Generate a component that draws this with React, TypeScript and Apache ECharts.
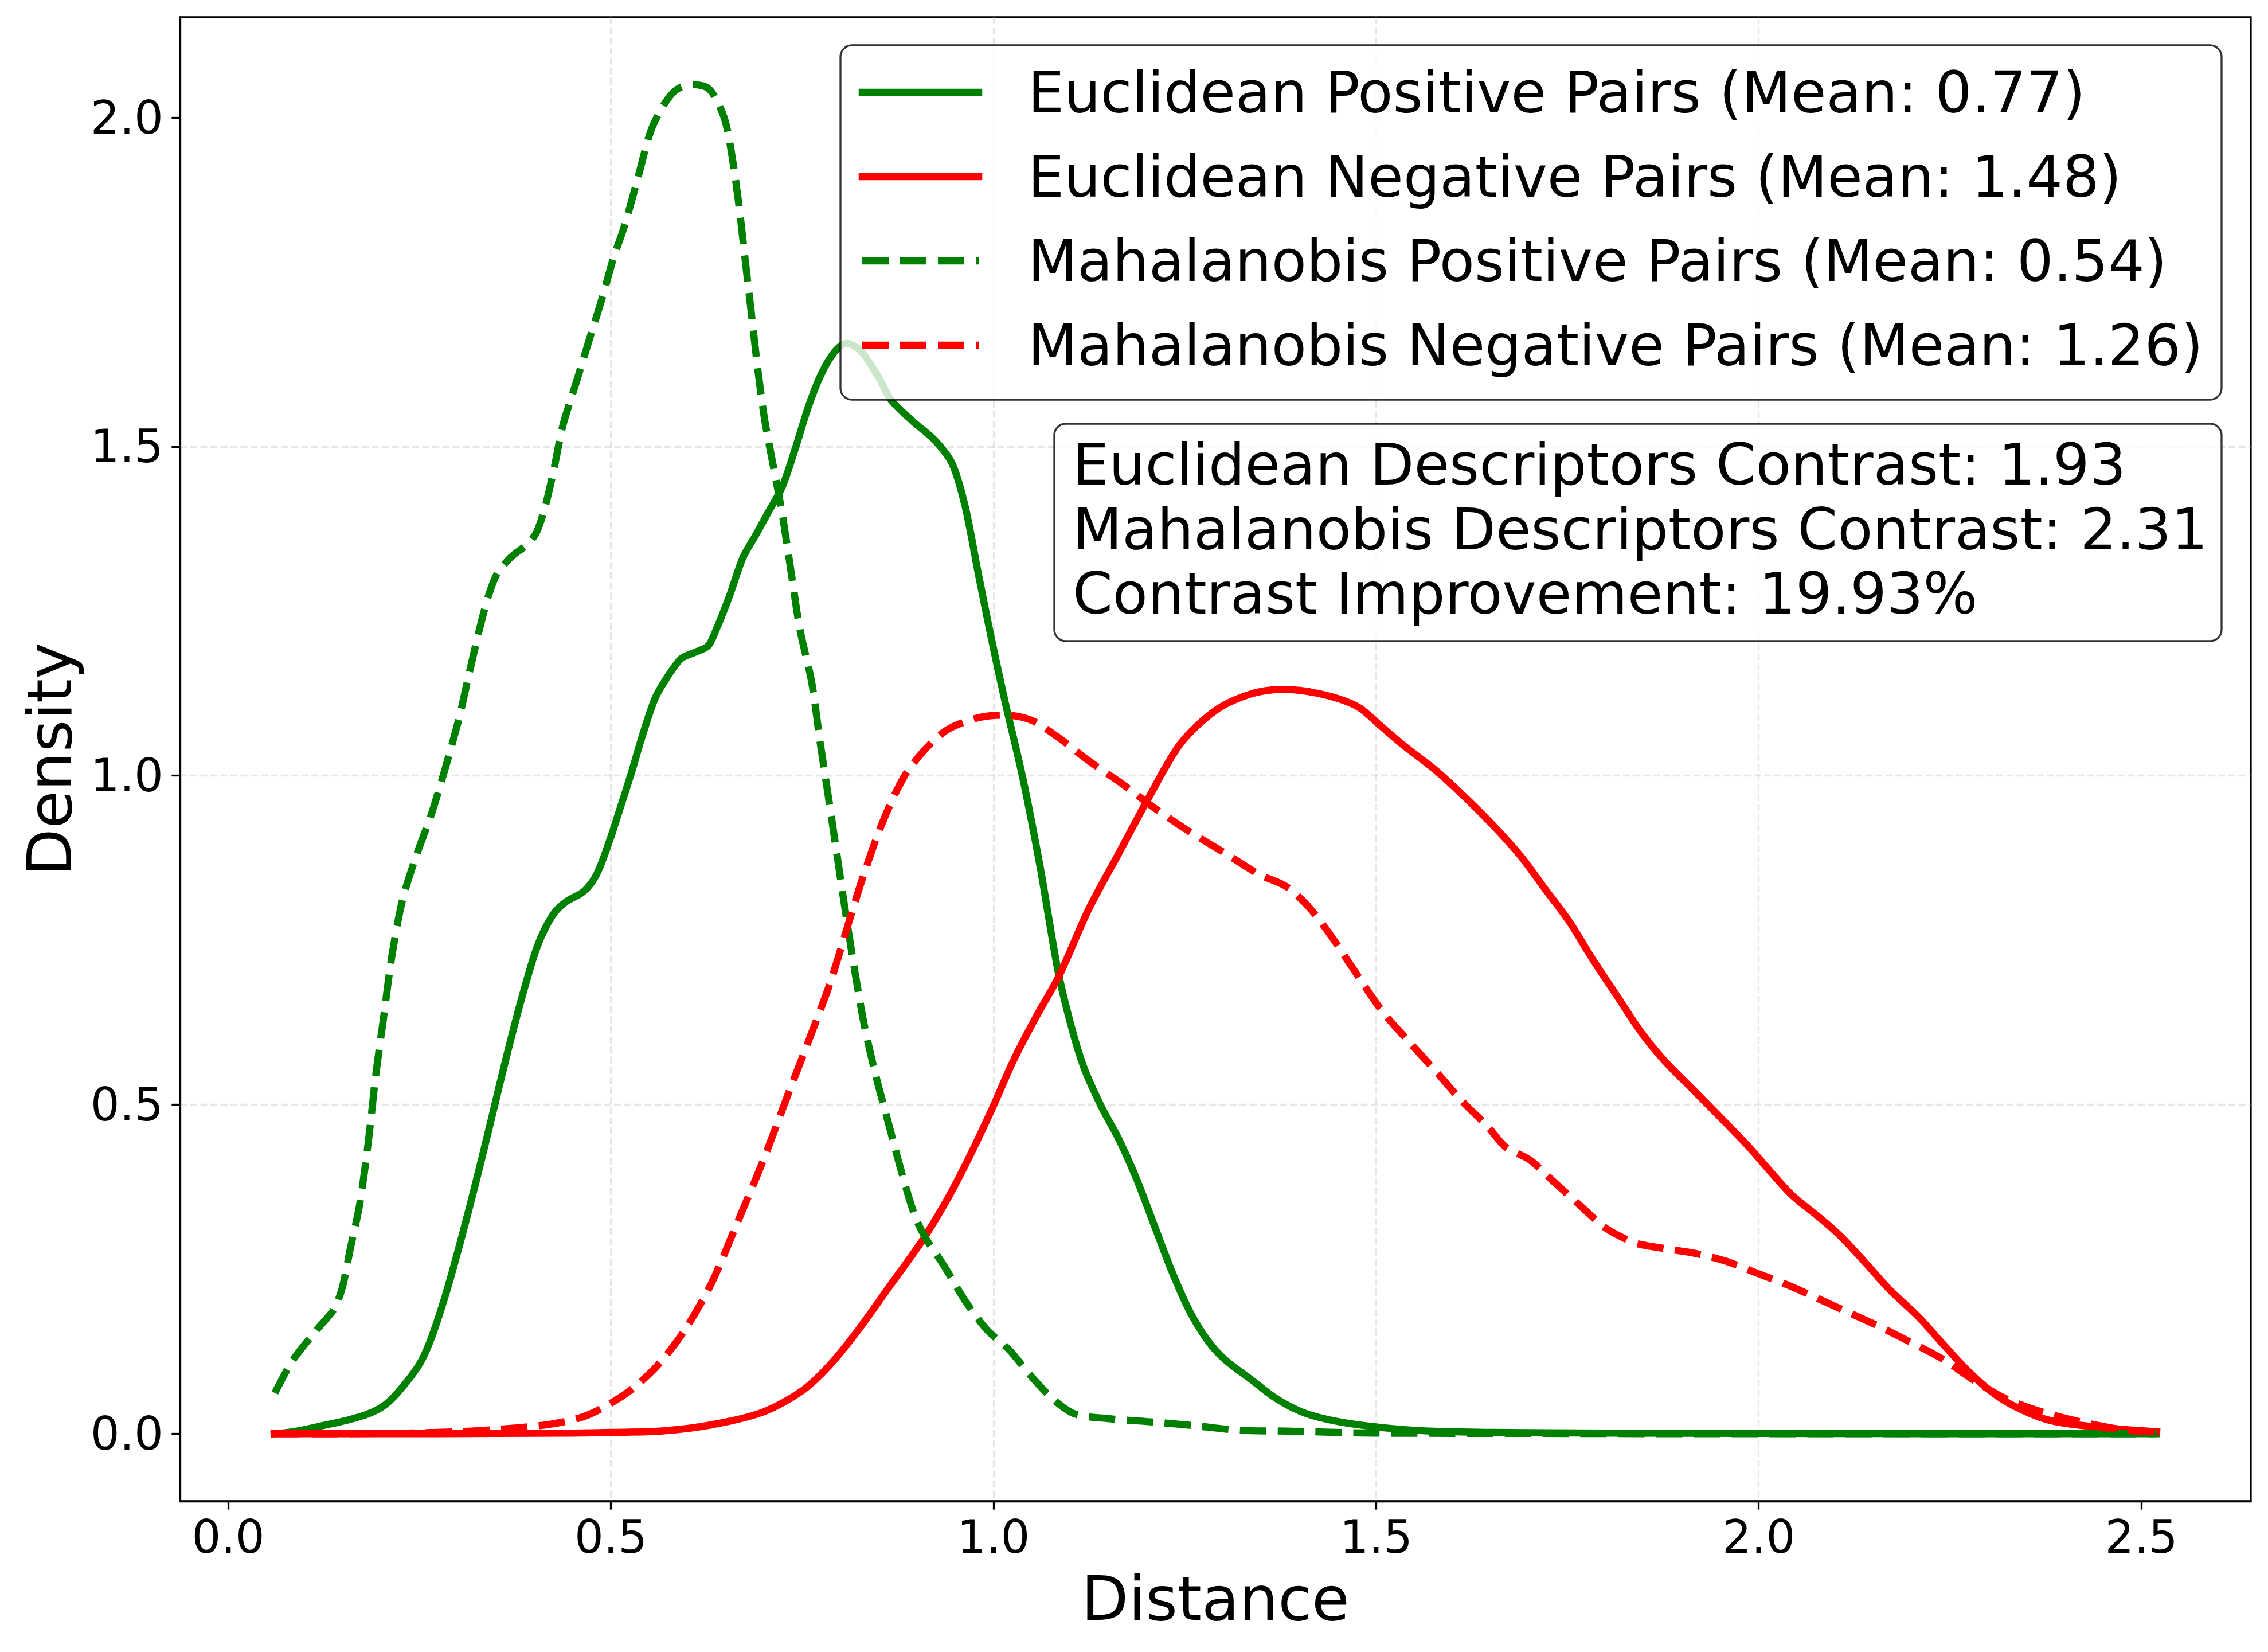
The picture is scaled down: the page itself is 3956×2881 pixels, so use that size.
import React, { useEffect, useRef } from 'react';
import * as echarts from 'echarts';

const W = 3956;
const H = 2881;
const FONT = 'DejaVu Sans';

const seriesNames = [
  'Euclidean Positive Pairs (Mean: 0.77)',
  'Euclidean Negative Pairs (Mean: 1.48)',
  'Mahalanobis Positive Pairs (Mean: 0.54)',
  'Mahalanobis Negative Pairs (Mean: 1.26)',
];
const seriesColors = ['#008000', '#ff0000', '#008000', '#ff0000'];
const seriesDashed = [false, false, true, true];

const statsLines = [
  'Euclidean Descriptors Contrast: 1.93',
  'Mahalanobis Descriptors Contrast: 2.31',
  'Contrast Improvement: 19.93%',
];

const xTicks = [0, 0.5, 1.0, 1.5, 2.0, 2.5];
const yTicks = [0, 0.5, 1.0, 1.5, 2.0];

// [distance, density]
const euclideanPositive: number[][] = [
  [0.06, 0], [0.09, 0.004], [0.122, 0.012], [0.15, 0.019], [0.18, 0.029], [0.2, 0.04],
  [0.218, 0.058], [0.2485, 0.103], [0.264, 0.141], [0.284, 0.211], [0.304, 0.294],
  [0.324, 0.384], [0.344, 0.479], [0.364, 0.575], [0.384, 0.664], [0.404, 0.741],
  [0.424, 0.788], [0.441, 0.808], [0.4645, 0.824], [0.481, 0.849], [0.498, 0.9],
  [0.512, 0.95], [0.527, 1.005], [0.541, 1.06], [0.558, 1.118], [0.575, 1.152],
  [0.592, 1.178], [0.609, 1.187], [0.627, 1.197], [0.638, 1.223], [0.655, 1.273],
  [0.6725, 1.331], [0.69, 1.367], [0.707, 1.403], [0.724, 1.439], [0.741, 1.497],
  [0.7585, 1.562], [0.7757, 1.612], [0.793, 1.645], [0.808, 1.657], [0.827, 1.645],
  [0.85, 1.605], [0.866, 1.571], [0.894, 1.539], [0.923, 1.51], [0.946, 1.474],
  [0.963, 1.409], [0.98, 1.308], [0.9975, 1.207], [1.015, 1.113], [1.038, 0.998],
  [1.061, 0.861], [1.084, 0.705], [1.101, 0.622], [1.118, 0.557], [1.141, 0.497],
  [1.164, 0.447], [1.187, 0.387], [1.21, 0.317], [1.233, 0.247], [1.256, 0.187],
  [1.279, 0.143], [1.302, 0.113], [1.336, 0.083], [1.37, 0.053], [1.41, 0.03],
  [1.468, 0.015], [1.554, 0.005], [1.65, 0.002], [1.8, 0.001], [2.0, 0.0005],
  [2.2, 0.0002], [2.4, 0.0001], [2.52, 0],
];

const euclideanNegative: number[][] = [
  [0.06, 0], [0.2, 0], [0.35, 0.0005], [0.45, 0.001], [0.5, 0.002], [0.565, 0.004],
  [0.632, 0.0136], [0.699, 0.033], [0.749, 0.0645], [0.785, 0.103], [0.82, 0.1525],
  [0.866, 0.227], [0.906, 0.292], [0.94, 0.357], [0.969, 0.422], [0.9975, 0.492],
  [1.026, 0.567], [1.055, 0.632], [1.086, 0.6965], [1.124, 0.796], [1.164, 0.8826],
  [1.204, 0.969], [1.244, 1.048], [1.29, 1.099], [1.336, 1.124], [1.376, 1.131],
  [1.41, 1.128], [1.4505, 1.117], [1.479, 1.1025], [1.508, 1.0735], [1.537, 1.045],
  [1.577, 1.009], [1.611, 0.973], [1.65, 0.928], [1.688, 0.879], [1.72, 0.829],
  [1.752, 0.779], [1.784, 0.719], [1.8155, 0.664], [1.847, 0.609], [1.879, 0.564],
  [1.917, 0.5195], [1.955, 0.4746], [1.987, 0.436], [2.0125, 0.402], [2.044, 0.362],
  [2.082, 0.326], [2.108, 0.299], [2.14, 0.259], [2.171, 0.219], [2.21, 0.176],
  [2.241, 0.136], [2.273, 0.096], [2.305, 0.063], [2.337, 0.04], [2.381, 0.02],
  [2.445, 0.0097], [2.52, 0.003],
];

const mahalanobisPositive: number[][] = [
  [0.061, 0.062], [0.084, 0.111], [0.115, 0.157], [0.138, 0.189], [0.149, 0.222],
  [0.16, 0.284], [0.172, 0.35], [0.1835, 0.448], [0.193, 0.547], [0.2026, 0.629],
  [0.214, 0.727], [0.2275, 0.81], [0.2447, 0.875], [0.2676, 0.949], [0.2997, 1.0785],
  [0.314, 1.151], [0.3284, 1.223], [0.34, 1.273], [0.351, 1.306], [0.3686, 1.331],
  [0.3915, 1.3525], [0.403, 1.37], [0.4144, 1.41], [0.426, 1.468], [0.4373, 1.532],
  [0.4546, 1.597], [0.4717, 1.662], [0.489, 1.727], [0.503, 1.785], [0.5177, 1.835],
  [0.535, 1.907], [0.552, 1.979], [0.569, 2.019], [0.5865, 2.043], [0.609, 2.05],
  [0.6266, 2.045], [0.638, 2.027], [0.6496, 1.994], [0.658, 1.944], [0.6668, 1.872],
  [0.6754, 1.785], [0.684, 1.6985], [0.6926, 1.612], [0.7011, 1.54], [0.7127, 1.468],
  [0.7242, 1.396], [0.7356, 1.309], [0.747, 1.2227], [0.7624, 1.142], [0.7738, 1.048],
  [0.785, 0.962], [0.797, 0.868], [0.808, 0.782], [0.8197, 0.6965], [0.831, 0.622],
  [0.8456, 0.547], [0.8627, 0.472], [0.88, 0.397], [0.897, 0.332], [0.9115, 0.297],
  [0.9344, 0.257], [0.963, 0.202], [0.9918, 0.1575], [1.0205, 0.1275], [1.049, 0.0876],
  [1.0778, 0.0527], [1.1065, 0.03], [1.1523, 0.0227], [1.21, 0.0177], [1.267, 0.0117],
  [1.3244, 0.005], [1.3817, 0.004], [1.4964, 0.001], [1.7, 0.0005], [2.0, 0], [2.52, 0],
];

const mahalanobisNegative: number[][] = [
  [0.06, 0], [0.2, 0.0005], [0.3, 0.003], [0.357, 0.007], [0.391, 0.0104], [0.424, 0.015],
  [0.4645, 0.026], [0.498, 0.045], [0.531, 0.071], [0.565, 0.109], [0.598, 0.16],
  [0.632, 0.23], [0.665, 0.32], [0.699, 0.415], [0.732, 0.517], [0.7656, 0.619],
  [0.788, 0.69], [0.8255, 0.832], [0.854, 0.926], [0.883, 0.998], [0.9115, 1.041],
  [0.94, 1.07], [0.98, 1.088], [1.0147, 1.092], [1.049, 1.0845], [1.0836, 1.059],
  [1.124, 1.023], [1.164, 0.991], [1.21, 0.951], [1.256, 0.915], [1.3015, 0.883],
  [1.347, 0.85], [1.382, 0.832], [1.41, 0.803], [1.439, 0.76], [1.468, 0.71],
  [1.508, 0.642], [1.542, 0.597], [1.577, 0.552], [1.611, 0.507], [1.6456, 0.467],
  [1.669, 0.436], [1.701, 0.416], [1.733, 0.382], [1.7645, 0.349], [1.796, 0.316],
  [1.8155, 0.302], [1.841, 0.289], [1.879, 0.281], [1.917, 0.274], [1.955, 0.263],
  [2.0, 0.243], [2.044, 0.223], [2.095, 0.196], [2.152, 0.166], [2.197, 0.14],
  [2.241, 0.113], [2.279, 0.083], [2.318, 0.056], [2.362, 0.036], [2.413, 0.02],
  [2.476, 0.006], [2.52, 0.003],
];

const allSeries = [euclideanPositive, euclideanNegative, mahalanobisPositive, mahalanobisNegative];

// layout (pixels)
const GRID = { left: 314, top: 30, right: 30, bottom: 263 };
const LEGEND_BOX = { x: 1466, y: 79, w: 2409, h: 618 };
const LEGEND_ROW_Y = [161, 308, 455, 602];
const LEGEND_LINE = { x1: 1504, x2: 1707, textX: 1793 };
const STATS_BOX = { x: 1839, y: 739, w: 2036, h: 379 };

export default function App() {
  const ref = useRef<HTMLDivElement>(null);

  useEffect(() => {
    if (!ref.current) return;
    const chart = echarts.init(ref.current, null, { renderer: 'svg', width: W, height: H });

    const series = allSeries.map((d, i) => ({
      type: 'line',
      name: seriesNames[i],
      data: d,
      showSymbol: false,
      symbol: 'none',
      smooth: 0.3,
      silent: true,
      z: 3 + i,
      itemStyle: { color: seriesColors[i] },
      lineStyle: {
        color: seriesColors[i],
        width: 12.5,
        type: seriesDashed[i] ? [46, 20] : 'solid',
        cap: seriesDashed[i] ? 'butt' : 'square',
        join: 'round',
      },
    }));

    const graphic: any[] = [
      {
        type: 'rect',
        z: 100,
        shape: { x: LEGEND_BOX.x, y: LEGEND_BOX.y, width: LEGEND_BOX.w, height: LEGEND_BOX.h, r: 20 },
        style: { fill: 'rgba(255,255,255,0.8)', stroke: 'rgba(0,0,0,0.8)', lineWidth: 3.3 },
      },
    ];
    seriesNames.forEach((name, i) => {
      graphic.push({
        type: 'line',
        z: 101,
        shape: { x1: LEGEND_LINE.x1, y1: LEGEND_ROW_Y[i], x2: LEGEND_LINE.x2, y2: LEGEND_ROW_Y[i] },
        style: {
          stroke: seriesColors[i],
          lineWidth: 12.5,
          lineDash: seriesDashed[i] ? [46, 20] : null,
          lineCap: seriesDashed[i] ? 'butt' : 'square',
        },
      });
      graphic.push({
        type: 'text',
        z: 101,
        x: LEGEND_LINE.textX,
        y: LEGEND_ROW_Y[i],
        style: {
          text: name,
          fontSize: 100,
          fontFamily: FONT,
          fill: '#000',
          align: 'left',
          verticalAlign: 'middle',
        },
      });
    });
    graphic.push({
      type: 'rect',
      z: 100,
      shape: { x: STATS_BOX.x, y: STATS_BOX.y, width: STATS_BOX.w, height: STATS_BOX.h, r: 20 },
      style: { fill: 'rgba(255,255,255,0.8)', stroke: 'rgba(0,0,0,0.8)', lineWidth: 3.3 },
    });
    graphic.push({
      type: 'text',
      z: 101,
      x: 1871,
      y: 923,
      style: {
        text: statsLines.join('\n'),
        fontSize: 100,
        lineHeight: 112.5,
        fontFamily: FONT,
        fill: '#000',
        align: 'left',
        verticalAlign: 'middle',
      },
    });

    const gridLine = { color: 'rgba(176,176,176,0.3)', width: 3.3, type: [12.3, 5.3] };
    const axisLine = { show: true, onZero: false, lineStyle: { color: '#000', width: 3.3 } };

    chart.setOption({
      animation: false,
      backgroundColor: '#ffffff',
      textStyle: { fontFamily: FONT },
      grid: {
        ...GRID,
        containLabel: false,
        outerBoundsMode: 'none',
        show: true,
        borderColor: '#000',
        borderWidth: 3.3,
        backgroundColor: 'transparent',
      },
      xAxis: {
        type: 'value',
        min: -0.063,
        max: 2.643,
        splitNumber: 5,
        axisLine,
        axisTick: {
          show: true,
          inside: false,
          length: 14.6,
          customValues: xTicks,
          lineStyle: { color: '#000', width: 3.3 },
        },
        axisLabel: {
          customValues: xTicks,
          formatter: (v: number) => v.toFixed(1),
          fontSize: 80,
          lineHeight: 80,
          fontFamily: FONT,
          color: '#000',
          margin: 22,
        },
        splitLine: { show: true, showMinLine: false, showMaxLine: false, lineStyle: gridLine },
        name: 'Distance',
        nameLocation: 'middle',
        nameGap: 116,
        nameTextStyle: { fontSize: 107, lineHeight: 107, fontFamily: FONT, color: '#000' },
      },
      yAxis: {
        type: 'value',
        min: -0.1025,
        max: 2.1525,
        splitNumber: 5,
        axisLine,
        axisTick: {
          show: true,
          inside: false,
          length: 14.6,
          customValues: yTicks,
          lineStyle: { color: '#000', width: 3.3 },
        },
        axisLabel: {
          customValues: yTicks,
          formatter: (v: number) => v.toFixed(1),
          fontSize: 80,
          lineHeight: 80,
          fontFamily: FONT,
          color: '#000',
          margin: 29,
        },
        splitLine: { show: true, showMinLine: false, showMaxLine: false, lineStyle: gridLine },
        name: 'Density',
        nameLocation: 'middle',
        nameGap: 174,
        nameTextStyle: { fontSize: 107, lineHeight: 107, fontFamily: FONT, color: '#000' },
      },
      series,
      graphic,
    });

    return () => {
      chart.dispose();
    };
  }, []);

  return (
    <div
      ref={ref}
      style={{ position: 'absolute', left: 0, top: 0, width: W, height: H, background: '#fff' }}
    />
  );
}
